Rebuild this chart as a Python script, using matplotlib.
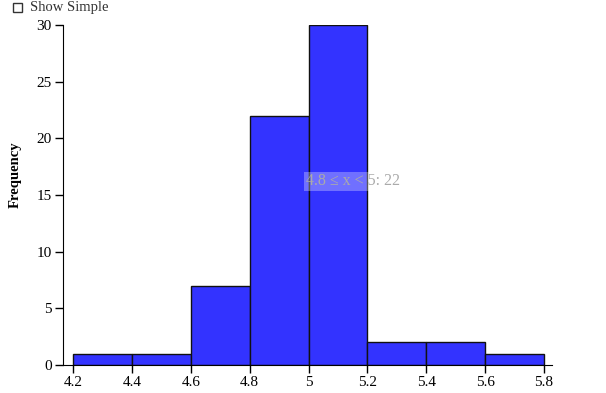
import numpy as np
import matplotlib.pyplot as plt
from matplotlib.patches import Rectangle

plt.rcParams['font.family'] = ['Liberation Serif', 'DejaVu Serif']

bin_edges = [4.2, 4.4, 4.6, 4.8, 5.0, 5.2, 5.4, 5.6, 5.8]
counts = [1, 1, 7, 22, 30, 2, 2, 1]
x_ticks = [4.2, 4.4, 4.6, 4.8, 5.0, 5.2, 5.4, 5.6, 5.8]
x_tick_labels = ['4.2', '4.4', '4.6', '4.8', '5', '5.2', '5.4', '5.6', '5.8']
y_ticks = [0, 5, 10, 15, 20, 25, 30]

fig = plt.figure(figsize=(6.06, 3.93), dpi=100)
ax = fig.add_axes([63/606, 28/393, 489/606, 340/393])

edges = np.array(bin_edges)
ax.bar(edges[:-1], counts, width=np.diff(edges), align='edge',
       color='#3333ff', edgecolor='#111111', linewidth=1)

ax.set_xlim(4.166, 5.827)
ax.set_ylim(0, 30)
ax.set_xticks(x_ticks)
ax.set_xticklabels(x_tick_labels)
ax.set_yticks(y_ticks)
ax.tick_params(direction='out', length=6, width=1, labelsize=11, pad=2)
for s in ['top', 'right']:
    ax.spines[s].set_visible(False)
ax.spines['left'].set_bounds(0, 30)

ax.set_ylabel('Frequency', fontsize=10.5, fontweight='bold')
ax.yaxis.set_label_coords(-0.084, 0.56)

# tooltip
ax.text(4.99, 16.2, '4.8 \u2264 x < 5: 22', fontsize=11.5, color='#aaaaaa',
        va='center', ha='left',
        bbox=dict(boxstyle='square,pad=0.1', facecolor='white', alpha=0.3,
                  edgecolor='none'))

# checkbox label at top
fig.patches.append(Rectangle((13/606, 1 - 12/393), 9/606, 9/393,
                             transform=fig.transFigure, facecolor='white',
                             edgecolor='#333333', linewidth=1))
fig.text(30/606, 1 - 7/393, 'Show Simple', fontsize=10.5, va='center',
         ha='left', color='#333333')

fig.savefig('out.png', dpi=100)
